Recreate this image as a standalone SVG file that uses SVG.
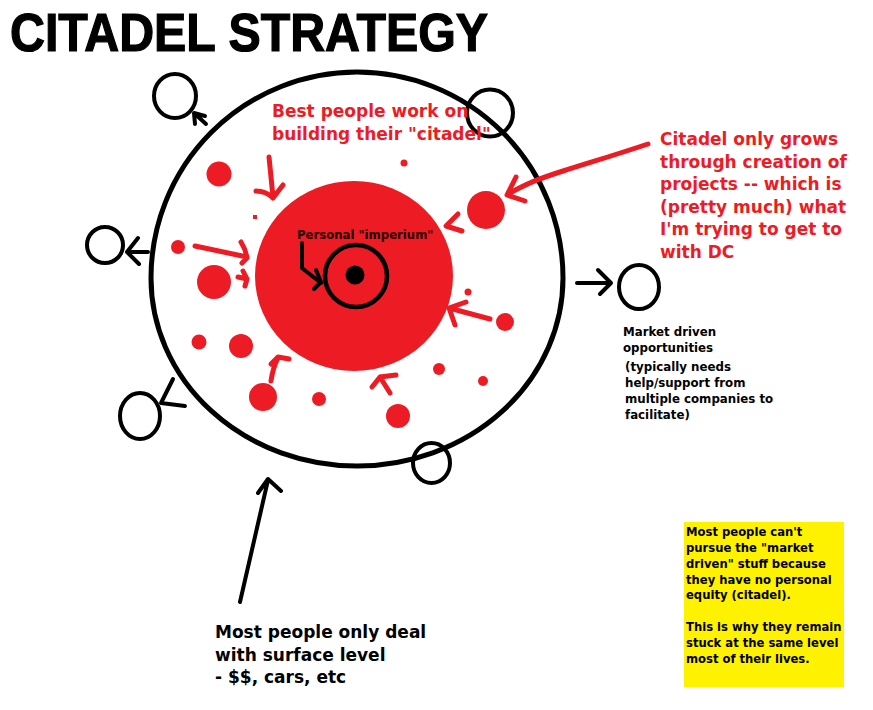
<svg xmlns="http://www.w3.org/2000/svg" width="873" height="710" viewBox="0 0 873 710">
<style>
.bk{fill:none;stroke:#000;stroke-width:4;stroke-linecap:round;stroke-linejoin:round}
.rd{fill:none;stroke:#ed1c24;stroke-width:5;stroke-linecap:round;stroke-linejoin:round}
.dot{fill:#ed1c24}
.t{font-family:"DejaVu Sans","Liberation Sans",sans-serif;font-weight:bold}
.red{fill:#ed1c24;font-size:17px}
.blk{fill:#000}
</style>
<rect width="873" height="710" fill="#fff"/>
<g id="title">
<text class="t" x="10" y="51" font-family="Liberation Sans,Arial,sans-serif" font-size="53" fill="#000" stroke="#000" stroke-width="1.2" textLength="478" lengthAdjust="spacingAndGlyphs" style="font-family:'Liberation Sans',Arial,sans-serif">CITADEL STRATEGY</text>
</g>
<g id="citadel">
<path d="M151,278 A206,206 0 0 1 563,278 A206,188 0 0 1 151,278 Z" fill="none" stroke="#000" stroke-width="5"/>
</g>
<g id="red-dots">
<circle class="dot" cx="219" cy="174" r="12.5"/>
<circle class="dot" cx="178" cy="247" r="7"/>
<circle class="dot" cx="214" cy="282" r="17"/>
<circle class="dot" cx="199" cy="342" r="7.5"/>
<circle class="dot" cx="241" cy="346" r="12"/>
<circle class="dot" cx="263" cy="397" r="14"/>
<circle class="dot" cx="319" cy="399" r="7"/>
<circle class="dot" cx="398" cy="416" r="12"/>
<circle class="dot" cx="439" cy="369" r="6"/>
<circle class="dot" cx="483" cy="381" r="5"/>
<circle class="dot" cx="505" cy="322" r="9"/>
<circle class="dot" cx="486" cy="210" r="19"/>
<circle class="dot" cx="468" cy="292" r="3.5"/>
<circle class="dot" cx="404" cy="163" r="3.5"/>
<rect class="dot" x="253" y="215" width="4" height="4"/>
</g>
<g id="core">
<ellipse cx="354" cy="276" rx="99" ry="95" fill="#ed1c24"/>
</g>
<g id="imperium">
<circle cx="356" cy="276" r="31" fill="none" stroke="#000" stroke-width="4.5"/>
<circle cx="355" cy="275" r="9.5" fill="#000"/>
<text class="t" x="297" y="239" font-size="11.7" fill="#200">Personal "imperium"</text>
</g>
<g id="opportunities">
<ellipse cx="175" cy="96" rx="21" ry="22" fill="none" stroke="#000" stroke-width="4"/>
<circle cx="105" cy="245" r="18" fill="none" stroke="#000" stroke-width="4"/>
<ellipse cx="140" cy="416" rx="20" ry="23" fill="none" stroke="#000" stroke-width="4"/>
<ellipse cx="490" cy="113" rx="23" ry="23.5" fill="none" stroke="#000" stroke-width="4"/>
<ellipse cx="431.5" cy="463" rx="18.5" ry="20" fill="none" stroke="#000" stroke-width="4"/>
<ellipse cx="639" cy="287" rx="20" ry="22" fill="none" stroke="#000" stroke-width="4"/>
</g>
<g id="label-best">
<text class="t red" x="272" y="117">Best people work on</text>
<text class="t red" x="272" y="140">building their "citadel"</text>
</g>
<g id="label-grows">
<text class="t red" x="660" y="145">Citadel only grows</text>
<text class="t red" x="660" y="167.5">through creation of</text>
<text class="t red" x="660" y="190">projects -- which is</text>
<text class="t red" x="660" y="212.5">(pretty much) what</text>
<text class="t red" x="660" y="235">I'm trying to get to</text>
<text class="t red" x="660" y="257.5">with DC</text>
</g>
<g id="label-market" class="t blk" font-size="11.8">
<text x="623" y="336">Market driven</text>
<text x="623" y="352">opportunities</text>
<text x="625" y="371">(typically needs</text>
<text x="625" y="387">help/support from</text>
<text x="625" y="403">multiple companies to</text>
<text x="625" y="419">facilitate)</text>
</g>
<g id="note">
<rect x="684" y="522" width="160" height="165" fill="#fff200"/>
<g class="t blk" font-size="11.6">
<text x="686" y="536">Most people can't</text>
<text x="686" y="552">pursue the "market</text>
<text x="686" y="568">driven" stuff because</text>
<text x="686" y="583.5">they have no personal</text>
<text x="686" y="599">equity (citadel).</text>
<text x="686" y="631">This is why they remain</text>
<text x="686" y="647">stuck at the same level</text>
<text x="686" y="663">most of their lives.</text>
</g>
</g>
<g id="label-surface" class="t blk" font-size="17">
<text x="215" y="638">Most people only deal</text>
<text x="215" y="660.5">with surface level</text>
<text x="215" y="683">- $$, cars, etc</text>
</g>
<g id="connectors">
<path class="bk" d="M206,124 L194,113 M195,124 L194,113 L205,116"/>
<path class="bk" d="M148,252 L127,252 M138,238 L127,252 L139,264"/>
<path class="bk" d="M173,379 L161,403 L185,406"/>
<path class="bk" d="M577,283 L611,283 M598,270 L611,283 L600,294"/>
<path class="bk" d="M240,602 L268,480 M258,493 L268,479 L281,491"/>
<path class="bk" stroke-width="3" d="M302,243 L302,268 L321,283 M316,270 L321,282 L314,289" stroke="#1a0000"/>
<path class="rd" d="M269,157 L273,197 M256,191 Q266,191 273,198 L283,185"/>
<path class="rd" d="M195,246 L247,257 M241,242 Q246,250 247,258 L242,263"/>
<path class="rd" d="M238,277 L247,279 M243,271 L247,279 L245,286"/>
<path class="rd" d="M271,381 Q273,367 278,358 M271,364 L278,357 L289,359"/>
<path class="rd" d="M390,393 L380,377 M372,387 L380,377 L396,375"/>
<path class="rd" d="M458,214 L446,226 L462,231"/>
<path class="rd" d="M490,319 L449,308 M466,302 L449,308 L455,325"/>
<path class="rd" d="M648,144 C612,156 588,163 563,171 S528,183 508,194 M516,177 L507,195 L525,201"/>
</g>
</svg>
